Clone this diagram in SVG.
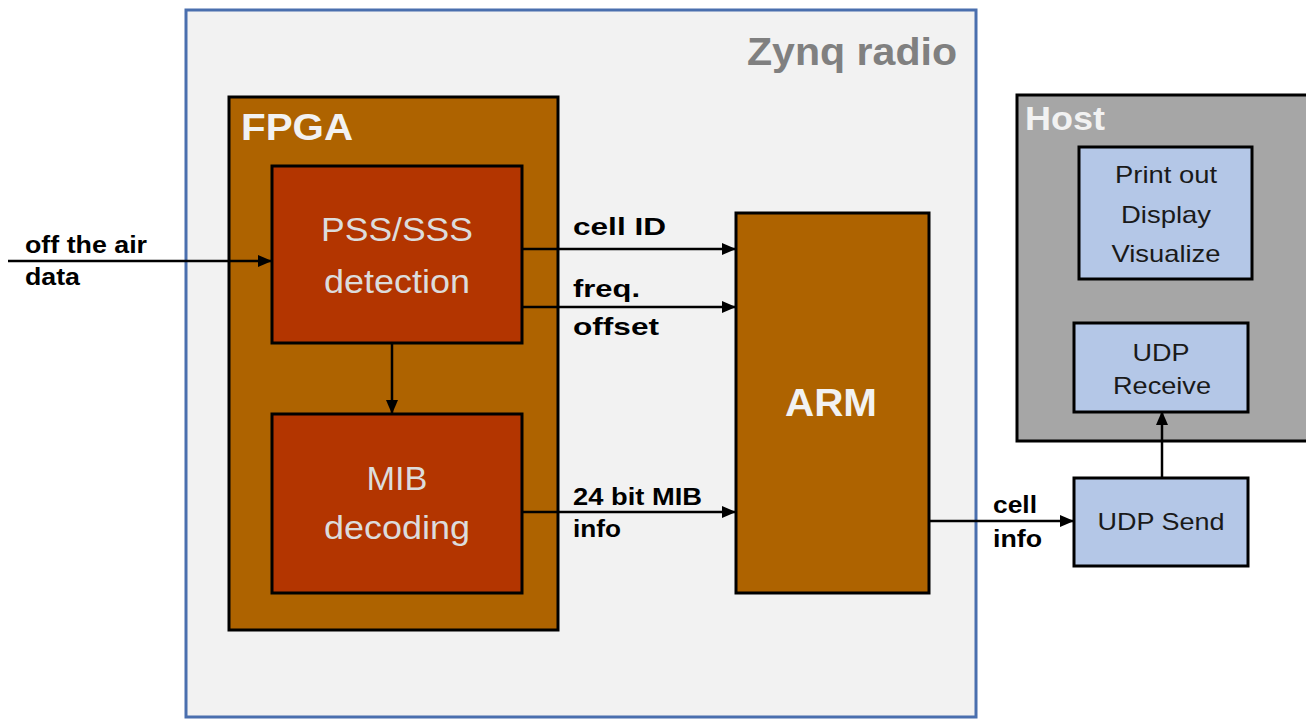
<svg xmlns="http://www.w3.org/2000/svg" width="1306" height="719" viewBox="0 0 1306 719">
<style>
text{font-family:"Liberation Sans",Arial,sans-serif}
.box{stroke:#000;stroke-width:3}
.brown{fill:#ae6300}
.red{fill:#b33500}
.blue{fill:#b4c7e7}
.lbl{font-weight:bold;font-size:24px;fill:#000}
.inner{font-size:34px;fill:#dcdcdc;text-anchor:middle}
.bt{font-size:24px;fill:#1a1a1a;text-anchor:middle}
.conn{stroke:#000;stroke-width:2.5;fill:none}
</style>
<defs>
<marker id="ah" markerUnits="userSpaceOnUse" markerWidth="14" markerHeight="12" refX="13" refY="6" orient="auto">
<path d="M0,0 L14,6 L0,12 Z" fill="#000"/>
</marker>
</defs>
<rect width="1306" height="719" fill="#fff"/>
<g id="zynq">
<rect x="186" y="10" width="790" height="707" fill="#f2f2f2" stroke="#4a6fae" stroke-width="3"/>
<text x="747" y="65" font-size="38" font-weight="bold" fill="#808080" textLength="210" lengthAdjust="spacingAndGlyphs">Zynq radio</text>
</g>
<g id="fpga">
<rect class="box brown" x="229" y="97" width="329" height="533"/>
<text x="241" y="140" font-size="37" font-weight="bold" fill="#f2f2f2" textLength="112" lengthAdjust="spacingAndGlyphs">FPGA</text>
</g>
<g id="pss">
<rect class="box red" x="272" y="166" width="250" height="177"/>
<text class="inner" x="397" y="241" textLength="152" lengthAdjust="spacingAndGlyphs">PSS/SSS</text>
<text class="inner" x="397" y="293" textLength="146" lengthAdjust="spacingAndGlyphs">detection</text>
</g>
<g id="mib">
<rect class="box red" x="272" y="414" width="250" height="179"/>
<text class="inner" x="397" y="490" textLength="61" lengthAdjust="spacingAndGlyphs">MIB</text>
<text class="inner" x="397" y="539" textLength="146" lengthAdjust="spacingAndGlyphs">decoding</text>
</g>
<g id="arm">
<rect class="box brown" x="736" y="213" width="193" height="380"/>
<text x="831" y="416" font-size="39" font-weight="bold" fill="#f2f2f2" text-anchor="middle" textLength="92" lengthAdjust="spacingAndGlyphs">ARM</text>
</g>
<g id="host">
<rect x="1017" y="95" width="300" height="346" fill="#a6a6a6" stroke="#000" stroke-width="3"/>
<text x="1025" y="130" font-size="34" font-weight="bold" fill="#f2f2f2" textLength="80" lengthAdjust="spacingAndGlyphs">Host</text>
</g>
<g id="print">
<rect class="box blue" x="1079" y="147" width="173" height="132"/>
<text class="bt" x="1166" y="183" textLength="102" lengthAdjust="spacingAndGlyphs">Print out</text>
<text class="bt" x="1166" y="223" textLength="90" lengthAdjust="spacingAndGlyphs">Display</text>
<text class="bt" x="1166" y="262" textLength="109" lengthAdjust="spacingAndGlyphs">Visualize</text>
</g>
<g id="udprecv">
<rect class="box blue" x="1074" y="323" width="174" height="89"/>
<text class="bt" x="1161" y="361" textLength="57" lengthAdjust="spacingAndGlyphs">UDP</text>
<text class="bt" x="1162" y="394" textLength="98" lengthAdjust="spacingAndGlyphs">Receive</text>
</g>
<g id="udpsend">
<rect class="box blue" x="1074" y="478" width="174" height="88"/>
<text class="bt" x="1161" y="530" font-size="26" textLength="127" lengthAdjust="spacingAndGlyphs">UDP Send</text>
</g>
<g id="connectors">
<line class="conn" x1="8" y1="261" x2="271" y2="261" marker-end="url(#ah)"/>
<line class="conn" x1="522" y1="249" x2="735" y2="249" marker-end="url(#ah)"/>
<line class="conn" x1="522" y1="307" x2="735" y2="307" marker-end="url(#ah)"/>
<line class="conn" x1="392" y1="343" x2="392" y2="413" marker-end="url(#ah)"/>
<line class="conn" x1="522" y1="512" x2="735" y2="512" marker-end="url(#ah)"/>
<line class="conn" x1="929" y1="521" x2="1073" y2="521" marker-end="url(#ah)"/>
<line class="conn" x1="1162" y1="477" x2="1162" y2="412" marker-end="url(#ah)"/>
<text class="lbl" x="25" y="253" textLength="122" lengthAdjust="spacingAndGlyphs">off the air</text>
<text class="lbl" x="25" y="285" textLength="55" lengthAdjust="spacingAndGlyphs">data</text>
<text class="lbl" x="573" y="235" font-size="27" textLength="93" lengthAdjust="spacingAndGlyphs">cell ID</text>
<text class="lbl" x="573" y="297" font-size="27" textLength="67" lengthAdjust="spacingAndGlyphs">freq.</text>
<text class="lbl" x="573" y="335" font-size="27" textLength="86" lengthAdjust="spacingAndGlyphs">offset</text>
<text class="lbl" x="573" y="505" font-size="23" textLength="129" lengthAdjust="spacingAndGlyphs">24 bit MIB</text>
<text class="lbl" x="573" y="537" font-size="23" textLength="48" lengthAdjust="spacingAndGlyphs">info</text>
<text class="lbl" x="993" y="513" font-size="23" textLength="44" lengthAdjust="spacingAndGlyphs">cell</text>
<text class="lbl" x="993" y="547" font-size="23" textLength="49" lengthAdjust="spacingAndGlyphs">info</text>
</g>
</svg>
